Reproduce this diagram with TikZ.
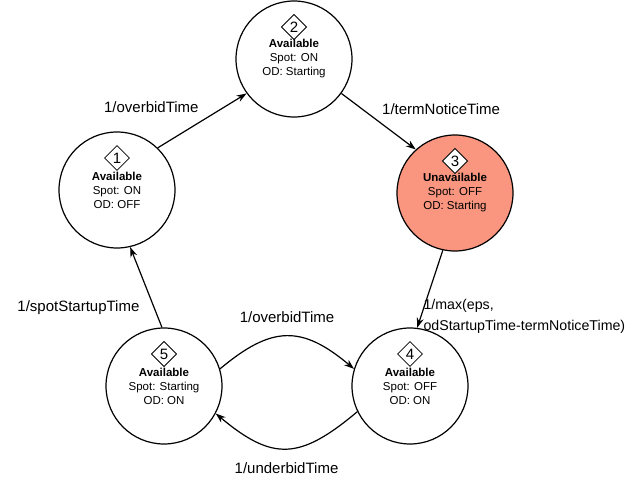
\documentclass[tikz,border=0pt]{standalone}
\usepackage{fontspec}
\setmainfont{Liberation Sans}
\usepackage{xcolor}
\usetikzlibrary{arrows.meta,shapes.geometric}

\definecolor{downred}{RGB}{250,150,128}

\tikzset{
  state/.style={circle, draw, line width=1.2pt, minimum size=116pt, inner sep=0pt,
    align=center, font=\fontsize{11.5}{14}\selectfont},
  downstate/.style={state, fill=downred},
  num/.style={diamond, draw, fill=white, line width=0.8pt, inner sep=1.6pt,
    font=\fontsize{15}{15}\selectfont},
  lbl/.style={font=\fontsize{15}{21}\selectfont, inner sep=0pt},
  longlbl/.style={font=\fontsize{14.2}{21}\selectfont, inner sep=0pt, align=left}
}

\begin{document}
\begin{tikzpicture}[x=1pt, y=-1pt, line width=1.2pt, >={Stealth[length=10pt,width=7pt]}]
  \useasboundingbox (0,0) rectangle (630,478);

  % states
  \node[state]     (s1) at (117,190) {\textbf{Available}\\Spot: ON\\OD: OFF};
  \node[state]     (s2) at (294,59)  {\textbf{Available}\\Spot: ON\\OD: Starting};
  \node[downstate] (s3) at (455,193) {\textbf{Unavailable}\\Spot: OFF\\OD: Starting};
  \node[state]     (s4) at (410,386) {\textbf{Available}\\Spot: OFF\\OD: ON};
  \node[state]     (s5) at (164,386) {\textbf{Available}\\Spot: Starting\\OD: ON};

  % state numbers
  \node[num] (n1) at ([yshift=32pt]s1.center) {1};
  \node[num] (n2) at ([yshift=32pt]s2.center) {2};
  \node[num] (n3) at ([yshift=32pt]s3.center) {3};
  \node[num] (n4) at ([yshift=32pt]s4.center) {4};
  \node[num] (n5) at ([yshift=32pt]s5.center) {5};

  % transitions
  \path[->]
  (s1.46) edge node[lbl, anchor=south east, xshift=-3pt, yshift=7pt] (l12) {1/overbidTime} (s2.216)
  ;
  \path[->]
  (s2.-36) edge node[lbl, anchor=south west, xshift=3pt, yshift=6pt] (l23) {1/termNoticeTime} (s3.132)
  ;
  \path[->]
  (s3.258) edge node[longlbl, anchor=north west, pos=0.62, xshift=-4pt] (l34) {1/max(eps,\\odStartupTime-termNoticeTime)} (s4.83)
  ;
  \path[->]
  (s5.92) edge node[lbl, anchor=east, pos=0.25, xshift=-14pt] (l51) {1/spotStartupTime} (s1.283)
  ;
  \path[->]
  (s5.17) edge[out=40, in=140, looseness=1.3] node[lbl, above=13pt] (l54) {1/overbidTime} (s4.163)
  ;
  \path[->]
  (s4.206) edge[out=-140, in=-40, looseness=1.35] node[lbl, below=13pt] (l45) {1/underbidTime} (s5.-28)
  ;
\end{tikzpicture}
\end{document}
